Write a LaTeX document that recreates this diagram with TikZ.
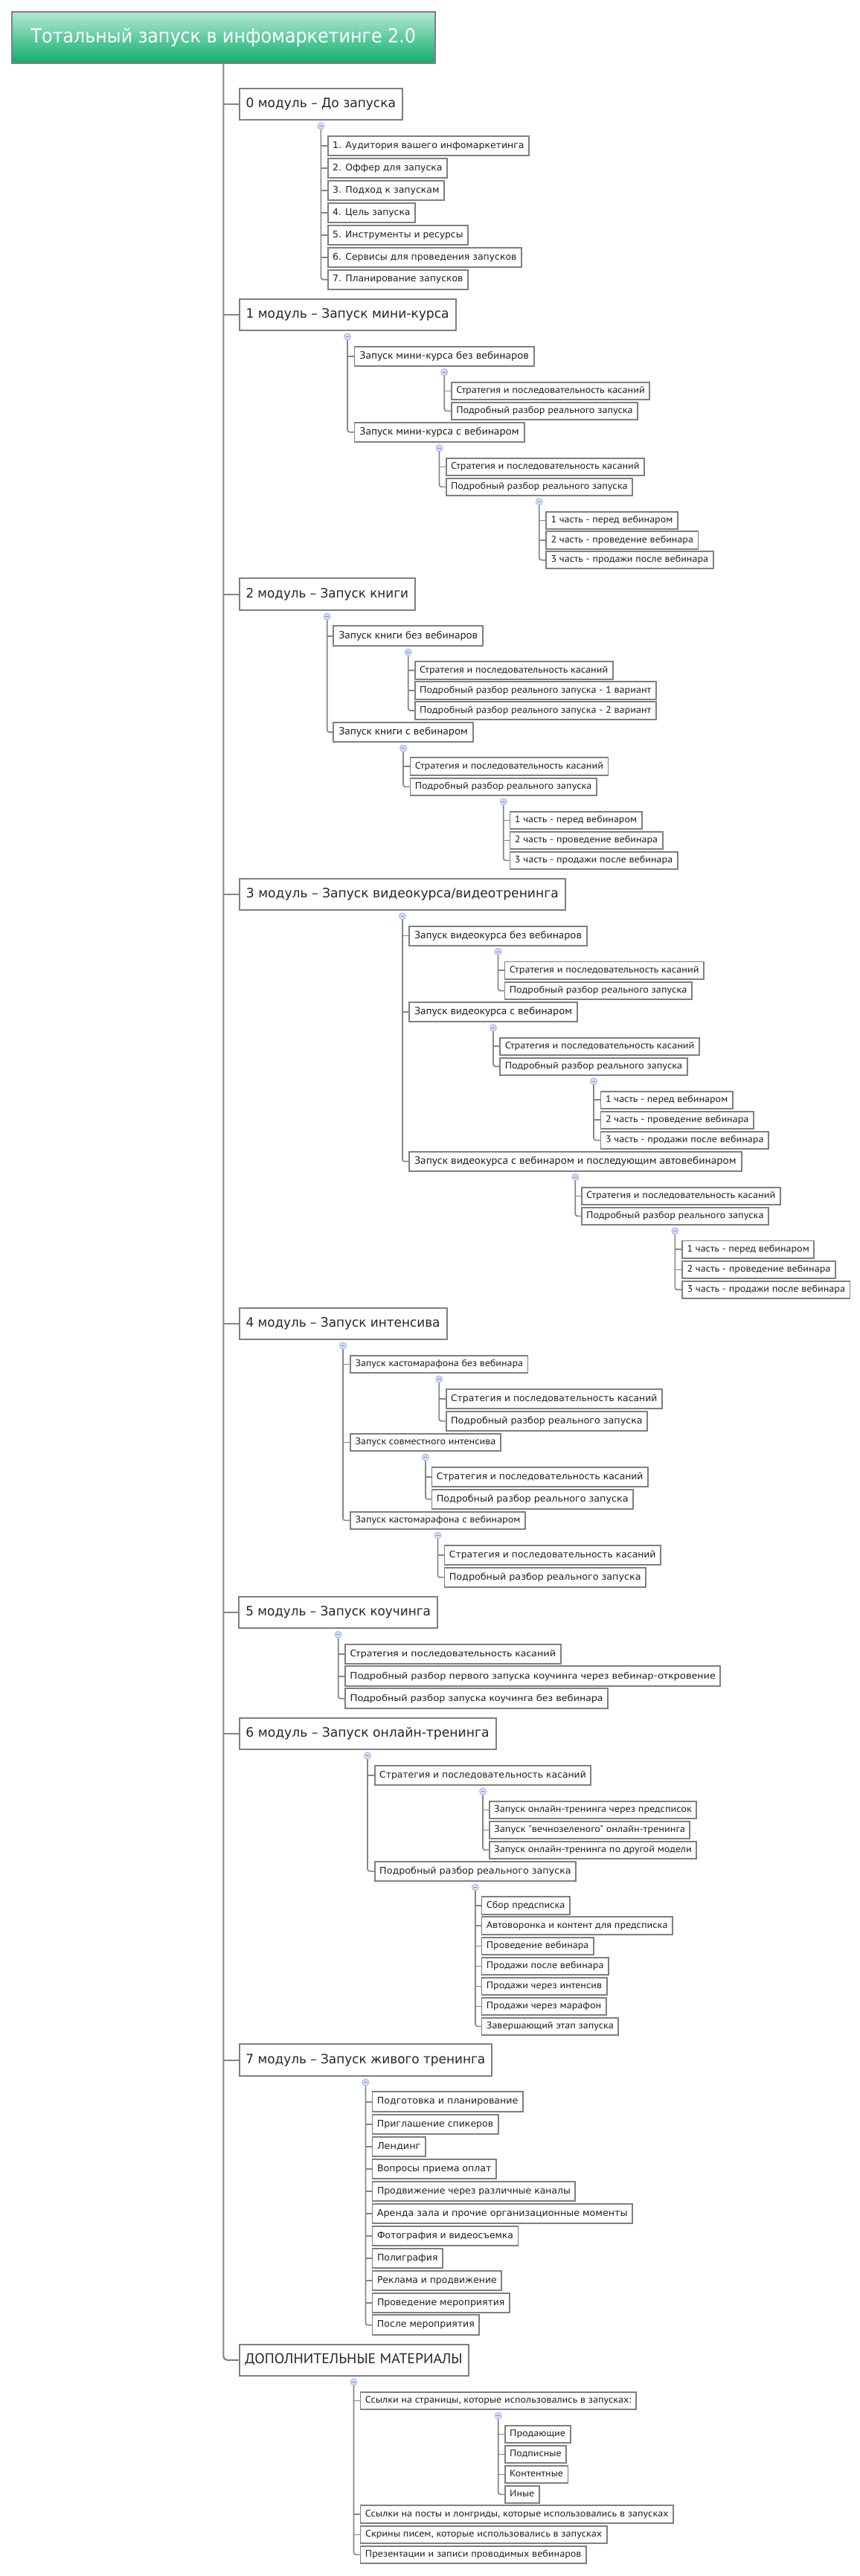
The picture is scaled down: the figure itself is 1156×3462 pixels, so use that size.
\documentclass[tikz,border=0pt]{standalone}
\usepackage{fontspec}
\usepackage{graphicx}
\usetikzlibrary{calc}
\newfontfamily\wfont{DejaVu Sans}
\newfontfamily\cfont{PT Sans}
\definecolor{bordergray}{HTML}{7F7F7F}
\definecolor{conngray}{HTML}{868686}
\definecolor{txt}{HTML}{1E1E1E}
\definecolor{gtop}{HTML}{B3E9D3}
\definecolor{gbot}{HTML}{0EAD6D}
\definecolor{cfill}{HTML}{D2DFF7}
\definecolor{cdraw}{HTML}{9DB3E2}
\newcommand\bx[8]{%
  \pgfmathsetmacro\bxw{#6-#4}%
  \pgfmathsetmacro\bxh{#7-#5}%
  \pgfmathsetmacro\bxt{#6-#4-2*#3}%
  \node[#2, minimum width=\bxw pt, minimum height=\bxh pt] (#1) at ({(#4+#6)/2},{(#5+#7)/2}) {\resizebox{\bxt pt}{\height}{\vphantom{Дду}#8}};%
}
\newcommand\branch[4]{%
  \node[collapse] (#2) at ($(#1.south)+(0,7.5)$) {};
  \draw[conn] (#2.south) |- (#4.west);
  \foreach \c in {#3} {\draw[conn] (#2 |- \c.west) -- (\c.west);}
}
\tikzset{
  box/.style={draw=bordergray, line width=1.8pt, fill=white, inner sep=0pt, text=txt},
  titlebox/.style={draw=bordergray, line width=2pt, top color=gtop, bottom color=gbot, inner sep=0pt, text=white, font=\wfont\fontsize{26}{30}\selectfont},
  modbox/.style={box, line width=2pt, text=black!85, font=\wfont\fontsize{17.4}{20}\selectfont},
  modcbox/.style={box, line width=2pt, text=black!85, font=\cfont\fontsize{19}{22}\selectfont},
  wbox/.style={box, font=\wfont\fontsize{12.3}{14}\selectfont},
  cbox/.style={box, font=\cfont\fontsize{14}{16}\selectfont},
  gbox/.style={box, font=\cfont\fontsize{12.8}{15}\selectfont},
  conn/.style={draw=conngray, line width=1.7pt, rounded corners=3pt},
  trunk/.style={draw=conngray, line width=2.2pt, rounded corners=5pt},
  collapse/.style={circle, minimum size=9pt, inner sep=0pt, fill=cfill, draw=cdraw, line width=0.8pt,
    path picture={\draw[cdraw!80!black, line width=0.7pt] ($(path picture bounding box.center)+(-2.3,0)$) -- ($(path picture bounding box.center)+(2.3,0)$);}}
}
\begin{document}
\begin{tikzpicture}[x=1pt,y=-1pt]
\useasboundingbox (0,0) rectangle (1156,3462);
\fill[white] (0,0) rectangle (1156,3462);
% title
\bx{t}{titlebox}{26}{15.7}{16}{585}{85}{Тотальный запуск в инфомаркетинге 2.0}
% modules
\bx{m0}{modbox}{9}{321.7}{119}{541}{161}{0 модуль – До запуска}
\bx{m1}{modbox}{9}{321.5}{401.7}{612.6}{444}{1 модуль – Запуск мини-курса}
\bx{m2}{modbox}{9}{321.5}{777.3}{558}{820}{2 модуль – Запуск книги}
\bx{m3}{modbox}{9}{322}{1180.7}{759.8}{1222.8}{3 модуль – Запуск видеокурса/видеотренинга}
\bx{m4}{modbox}{9}{321.5}{1757.5}{600.5}{1800}{4 модуль – Запуск интенсива}
\bx{m5}{modbox}{9}{321.3}{2145.7}{588}{2188.3}{5 модуль – Запуск коучинга}
\bx{m6}{modbox}{9}{321.5}{2309}{666.6}{2351}{6 модуль – Запуск онлайн-тренинга}
\bx{m7}{modbox}{9}{321.5}{2747.3}{661.3}{2790}{7 модуль – Запуск живого тренинга}
\bx{m8}{modcbox}{8}{321.5}{3150.7}{629.6}{3192.7}{ДОПОЛНИТЕЛЬНЫЕ МАТЕРИАЛЫ}
% trunk
\draw[trunk] (t.south) |- (m8.west);
\foreach \m in {m0,m1,m2,m3,m4,m5,m6,m7} {\draw[trunk] (t.south |- \m.west) -- (\m.west);}
% module 0
\bx{m0a}{wbox}{6.5}{440.7}{182.7}{711}{209}{1. Аудитория вашего инфомаркетинга}
\bx{m0b}{wbox}{6.5}{440.7}{213}{601}{239}{2. Оффер для запуска}
\bx{m0c}{wbox}{6.5}{440.7}{242.7}{597}{269}{3. Подход к запускам}
\bx{m0d}{wbox}{6.5}{440.7}{272.7}{558}{299}{4. Цель запуска}
\bx{m0e}{wbox}{6.5}{440.7}{302.7}{629}{329}{5. Инструменты и ресурсы}
\bx{m0f}{wbox}{6.5}{440.7}{332.7}{701}{359}{6. Сервисы для проведения запусков}
\bx{m0g}{wbox}{6.5}{440.7}{362.7}{629}{388.7}{7. Планирование запусков}
\branch{m0}{k0}{m0a,m0b,m0c,m0d,m0e,m0f}{m0g}
% module 1
\bx{m1a}{cbox}{7}{476.4}{465.7}{718}{491.7}{Запуск мини-курса без вебинаров}
\bx{m1a1}{gbox}{6.5}{606.8}{514}{873.3}{536.7}{Стратегия и последовательность касаний}
\bx{m1a2}{gbox}{6.5}{606.8}{541}{857.2}{563.7}{Подробный разбор реального запуска}
\bx{m1b}{cbox}{7}{476.4}{567.7}{704.6}{593.7}{Запуск мини-курса с вебинаром}
\bx{m1b1}{gbox}{6.5}{599.6}{616}{866.2}{638.7}{Стратегия и последовательность касаний}
\bx{m1b2}{gbox}{6.5}{599.6}{643}{850}{665.7}{Подробный разбор реального запуска}
\bx{m1b2a}{gbox}{6.5}{734}{687.7}{910.8}{711}{1 часть - перед вебинаром}
\bx{m1b2b}{gbox}{6.5}{734}{714.3}{938.5}{737.7}{2 часть - проведение вебинара}
\bx{m1b2c}{gbox}{6.5}{734}{741}{958.6}{764.3}{3 часть - продажи после вебинара}
\branch{m1}{k1}{m1a}{m1b}
\branch{m1a}{k1a}{m1a1}{m1a2}
\branch{m1b}{k1b}{m1b1}{m1b2}
\branch{m1b2}{k1b2}{m1b2a,m1b2b}{m1b2c}
% module 2
\bx{m2a}{cbox}{7}{448.3}{841.3}{649.2}{868}{Запуск книги без вебинаров}
\bx{m2a1}{gbox}{6.5}{557.7}{889}{823.8}{913}{Стратегия и последовательность касаний}
\bx{m2a2}{gbox}{6.5}{557.7}{916.3}{881.8}{939.7}{Подробный разбор реального запуска - 1 вариант}
\bx{m2a3}{gbox}{6.5}{557.7}{943.3}{881.8}{966.7}{Подробный разбор реального запуска - 2 вариант}
\bx{m2b}{cbox}{7}{448.3}{970.7}{635.8}{997.3}{Запуск книги с вебинаром}
\bx{m2b1}{gbox}{6.5}{551.4}{1018.3}{817.5}{1042}{Стратегия и последовательность касаний}
\bx{m2b2}{gbox}{6.5}{551.4}{1045.7}{801.9}{1069}{Подробный разбор реального запуска}
\bx{m2b2a}{gbox}{6.5}{685.4}{1090.7}{862.6}{1114}{1 часть - перед вебинаром}
\bx{m2b2b}{gbox}{6.5}{685.4}{1117.7}{890.7}{1141}{2 часть - проведение вебинара}
\bx{m2b2c}{gbox}{6.5}{685.4}{1144.7}{910.8}{1168}{3 часть - продажи после вебинара}
\branch{m2}{k2}{m2a}{m2b}
\branch{m2a}{k2a}{m2a1,m2a2}{m2a3}
\branch{m2b}{k2b}{m2b1}{m2b2}
\branch{m2b2}{k2b2}{m2b2a,m2b2b}{m2b2c}
% module 3
\bx{m3a}{cbox}{7}{550}{1244.6}{789}{1270.6}{Запуск видеокурса без вебинаров}
\bx{m3a1}{gbox}{6.5}{678.4}{1292.5}{946.1}{1315.8}{Стратегия и последовательность касаний}
\bx{m3a2}{gbox}{6.5}{678.4}{1320}{929.8}{1343}{Подробный разбор реального запуска}
\bx{m3b}{cbox}{7}{550}{1346.8}{776}{1372.8}{Запуск видеокурса с вебинаром}
\bx{m3b1}{gbox}{6.5}{672.3}{1394.6}{940}{1418}{Стратегия и последовательность касаний}
\bx{m3b2}{gbox}{6.5}{672.3}{1421.8}{923.7}{1444.8}{Подробный разбор реального запуска}
\bx{m3b2a}{gbox}{6.5}{807.5}{1467}{984.8}{1489.6}{1 часть - перед вебинаром}
\bx{m3b2b}{gbox}{6.5}{807.5}{1493.8}{1012.9}{1516.7}{2 часть - проведение вебинара}
\bx{m3b2c}{gbox}{6.5}{807.5}{1521}{1033}{1543.9}{3 часть - продажи после вебинара}
\bx{m3c}{cbox}{7}{550}{1548}{996.6}{1573.7}{Запуск видеокурса с вебинаром и последующим автовебинаром}
\bx{m3c1}{gbox}{6.5}{781.7}{1596}{1048.8}{1619}{Стратегия и последовательность касаний}
\bx{m3c2}{gbox}{6.5}{781.7}{1622.7}{1033}{1646}{Подробный разбор реального запуска}
\bx{m3c2a}{gbox}{6.5}{917}{1667.5}{1094.3}{1690.9}{1 часть - перед вебинаром}
\bx{m3c2b}{gbox}{6.5}{917}{1694.7}{1122.9}{1718}{2 часть - проведение вебинара}
\bx{m3c2c}{gbox}{6.5}{917}{1721.8}{1142.5}{1744.8}{3 часть - продажи после вебинара}
\branch{m3}{k3}{m3a,m3b}{m3c}
\branch{m3a}{k3a}{m3a1}{m3a2}
\branch{m3b}{k3b}{m3b1}{m3b2}
\branch{m3b2}{k3b2}{m3b2a,m3b2b}{m3b2c}
\branch{m3c}{k3c}{m3c1}{m3c2}
\branch{m3c2}{k3c2}{m3c2a,m3c2b}{m3c2c}
% module 4
\bx{m4a}{gbox}{6.5}{471}{1821.7}{709.5}{1845}{Запуск кастомарафона без вебинара}
\bx{m4a1}{wbox}{6.5}{599.6}{1866.7}{889.8}{1893}{Стратегия и последовательность касаний}
\bx{m4a2}{wbox}{6.5}{599.6}{1896.7}{870.2}{1923}{Подробный разбор реального запуска}
\bx{m4b}{gbox}{6.5}{471}{1926.7}{672.9}{1950}{Запуск совместного интенсива}
\bx{m4b1}{wbox}{6.5}{580.4}{1971.7}{871}{1998}{Стратегия и последовательность касаний}
\bx{m4b2}{wbox}{6.5}{580.4}{2001.7}{851}{2028}{Подробный разбор реального запуска}
\bx{m4c}{gbox}{6.5}{471}{2031.7}{705.9}{2055}{Запуск кастомарафона с вебинаром}
\bx{m4c1}{wbox}{6.5}{597.4}{2076.7}{888}{2103}{Стратегия и последовательность касаний}
\bx{m4c2}{wbox}{6.5}{597.4}{2106.7}{868}{2133}{Подробный разбор реального запуска}
\branch{m4}{k4}{m4a,m4b}{m4c}
\branch{m4a}{k4a}{m4a1}{m4a2}
\branch{m4b}{k4b}{m4b1}{m4b2}
\branch{m4c}{k4c}{m4c1}{m4c2}
% module 5
\bx{m5a}{gbox}{6.5}{464}{2209.7}{753.8}{2236}{Стратегия и последовательность касаний}
\bx{m5b}{gbox}{6.5}{464}{2239.3}{968.3}{2266}{Подробный разбор первого запуска коучинга через вебинар-откровение}
\bx{m5c}{gbox}{6.5}{464}{2269.3}{817}{2296}{Подробный разбор запуска коучинга без вебинара}
\branch{m5}{k5}{m5a,m5b}{m5c}
% module 6
\bx{m6a}{wbox}{6.5}{503.7}{2372.7}{794.3}{2399}{Стратегия и последовательность касаний}
\bx{m6a1}{gbox}{6.5}{657.7}{2420.7}{936.3}{2444.3}{Запуск онлайн-тренинга через предсписок}
\bx{m6a2}{gbox}{6.5}{657.7}{2447.7}{927.3}{2471}{Запуск "вечнозеленого" онлайн-тренинга}
\bx{m6a3}{gbox}{6.5}{657.7}{2474.7}{936.3}{2498}{Запуск онлайн-тренинга по другой модели}
\bx{m6b}{wbox}{6.5}{503.7}{2501.7}{774.2}{2528}{Подробный разбор реального запуска}
\bx{m6b1}{gbox}{6.5}{647.4}{2549.3}{765.7}{2573}{Сбор предсписка}
\bx{m6b2}{gbox}{6.5}{647.4}{2576.3}{904}{2599.7}{Автоворонка и контент для предсписка}
\bx{m6b3}{gbox}{6.5}{647.4}{2603.7}{797.9}{2627}{Проведение вебинара}
\bx{m6b4}{gbox}{6.5}{647.4}{2630.7}{818}{2654}{Продажи после вебинара}
\bx{m6b5}{gbox}{6.5}{647.4}{2657.7}{815.7}{2681}{Продажи через интенсив}
\bx{m6b6}{gbox}{6.5}{647.4}{2684.7}{814.8}{2708}{Продажи через марафон}
\bx{m6b7}{gbox}{6.5}{647.4}{2711.7}{831.3}{2735}{Завершающий этап запуска}
\branch{m6}{k6}{m6a}{m6b}
\branch{m6a}{k6a}{m6a1,m6a2}{m6a3}
\branch{m6b}{k6b}{m6b1,m6b2,m6b3,m6b4,m6b5,m6b6}{m6b7}
% module 7
\bx{m7a}{wbox}{6.5}{500.5}{2811.3}{702.8}{2838}{Подготовка и планирование}
\bx{m7b}{wbox}{6.5}{500.5}{2841.7}{669.7}{2868}{Приглашение спикеров}
\bx{m7c}{wbox}{6.5}{500.5}{2871.7}{572}{2898}{Лендинг}
\bx{m7d}{wbox}{6.5}{500.5}{2901.7}{667}{2928}{Вопросы приема оплат}
\bx{m7e}{wbox}{6.5}{500.5}{2931.7}{773.3}{2958}{Продвижение через различные каналы}
\bx{m7f}{wbox}{6.5}{500.5}{2961.7}{850}{2988}{Аренда зала и прочие организационные моменты}
\bx{m7g}{wbox}{6.5}{500.5}{2991.7}{696.5}{3018}{Фотография и видеосъемка}
\bx{m7h}{wbox}{6.5}{500.5}{3021.7}{595}{3048}{Полиграфия}
\bx{m7i}{wbox}{6.5}{500.5}{3051.7}{674.2}{3078}{Реклама и продвижение}
\bx{m7j}{wbox}{6.5}{500.5}{3081.7}{685}{3108}{Проведение мероприятия}
\bx{m7k}{wbox}{6.5}{500.5}{3111.3}{644.3}{3138}{После мероприятия}
\branch{m7}{k7}{m7a,m7b,m7c,m7d,m7e,m7f,m7g,m7h,m7i,m7j}{m7k}
% module 8
\bx{m8a}{gbox}{6.5}{484.5}{3214.7}{855}{3238}{Ссылки на страницы, которые использовались в запусках:}
\bx{m8a1}{gbox}{6.5}{678.7}{3259.7}{766.6}{3283}{Продающие}
\bx{m8a2}{gbox}{6.5}{678.7}{3286.7}{761.3}{3310}{Подписные}
\bx{m8a3}{gbox}{6.5}{678.7}{3314}{763.5}{3337}{Контентные}
\bx{m8a4}{gbox}{6.5}{678.7}{3340.7}{724.6}{3364}{Иные}
\bx{m8b}{gbox}{6.5}{484.5}{3367.3}{905}{3391}{Ссылки на посты и лонгриды, которые использовались в запусках}
\bx{m8c}{gbox}{6.5}{484.5}{3394.7}{815.7}{3418}{Скрины писем, которые использовались в запусках}
\bx{m8d}{gbox}{6.5}{484.5}{3421.7}{788}{3445}{Презентации и записи проводимых вебинаров}
\branch{m8}{k8}{m8a,m8b,m8c}{m8d}
\branch{m8a}{k8a}{m8a1,m8a2,m8a3}{m8a4}
\end{tikzpicture}
\end{document}
